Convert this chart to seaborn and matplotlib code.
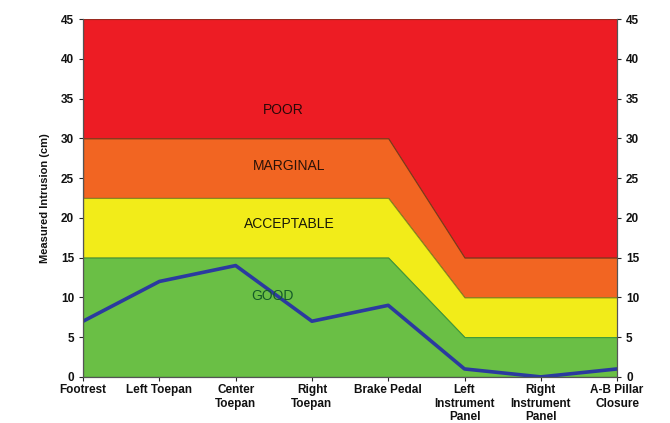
import numpy as np
import pandas as pd
import matplotlib
matplotlib.use("Agg")
import matplotlib.pyplot as plt
import seaborn as sns

categories = ["Footrest", "Left Toepan", "Center\nToepan", "Right\nToepan", "Brake Pedal",
              "Left\nInstrument\nPanel", "Right\nInstrument\nPanel", "A-B Pillar\nClosure"]
good_max = [15, 15, 15, 15, 15, 5, 5, 5]
acceptable_max = [22.5, 22.5, 22.5, 22.5, 22.5, 10, 10, 10]
marginal_max = [30, 30, 30, 30, 30, 15, 15, 15]
poor_max = [45, 45, 45, 45, 45, 45, 45, 45]
intrusion = [7, 12, 14, 7, 9, 1, 0, 1]

sns.set_style("ticks")
plt.rcParams['font.family'] = ['Liberation Sans', 'DejaVu Sans']

df = pd.DataFrame({"pos": np.arange(len(categories)), "intrusion": intrusion})
x = df["pos"]

fig = plt.figure(figsize=(6.7, 4.23), dpi=100)
ax = fig.add_axes([0.124, 0.109, 0.797, 0.846])

zero = np.zeros(len(categories))
ax.fill_between(x, marginal_max, poor_max, facecolor="#ED1C24", edgecolor="#9a2a20", lw=0.8)
ax.fill_between(x, acceptable_max, marginal_max, facecolor="#F26522", edgecolor="#7a3a1a", lw=0.8)
ax.fill_between(x, good_max, acceptable_max, facecolor="#F2EC19", edgecolor="#8a8a20", lw=0.8)
ax.fill_between(x, zero, good_max, facecolor="#6ABF45", edgecolor="#3f9a3a", lw=0.8)

sns.lineplot(data=df, x="pos", y="intrusion", ax=ax, color="#2B3A9F", lw=2.6)

ax.text(2.62, 33.5, "POOR", ha="center", va="center", fontsize=10, color="#2a0808")
ax.text(2.70, 26.5, "MARGINAL", ha="center", va="center", fontsize=10, color="#2a1208")
ax.text(2.70, 19.2, "ACCEPTABLE", ha="center", va="center", fontsize=10, color="#1a1a08")
ax.text(2.48, 10.2, "GOOD", ha="center", va="center", fontsize=10, color="#145a28")

ax.set_xlim(0, len(categories) - 1)
ax.set_ylim(0, 45)
ax.set_xticks(x)
ax.set_xticklabels(categories, fontsize=8.5, fontweight="bold", color="#111111")
ax.set_yticks(np.arange(0, 46, 5))
ax.tick_params(axis="y", labelsize=8.5, length=3, width=0.8, labelcolor="#111111")
ax.tick_params(axis="x", length=3, width=0.8, pad=2)
for t in ax.get_yticklabels():
    t.set_fontweight("bold")
ax.set_xlabel("")
ax.set_ylabel("Measured Intrusion (cm)", fontsize=8, fontweight="bold", labelpad=8, color="#111111")

ax2 = ax.twinx()
ax2.set_ylim(0, 45)
ax2.set_yticks(np.arange(0, 46, 5))
ax2.tick_params(axis="y", labelsize=8.5, length=3, width=0.8, labelcolor="#111111")
for t in ax2.get_yticklabels():
    t.set_fontweight("bold")

for a in (ax, ax2):
    a.spines["top"].set_visible(False)
    for s in ("left", "right", "bottom"):
        a.spines[s].set_color("#555555")
        a.spines[s].set_linewidth(0.8)

fig.savefig("out.png", dpi=100)
